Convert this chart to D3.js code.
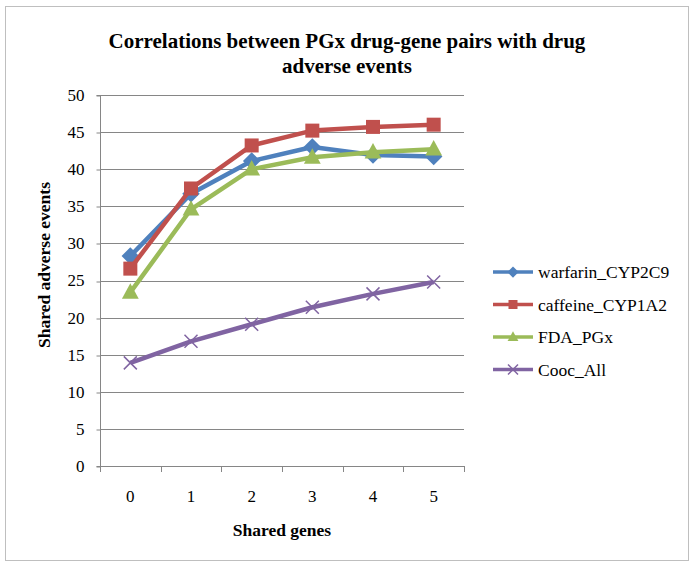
<!DOCTYPE html>
<html><head><meta charset="utf-8">
<script src="https://cdn.jsdelivr.net/npm/d3@7"></script>
<style>body{margin:0;background:#fff}svg{display:block}</style>
</head><body>
<svg id="c" width="695" height="569"></svg>
<script>
const categories = ["0","1","2","3","4","5"];
const warfarin = [28.3, 36.7, 41.1, 43.0, 41.9, 41.7];
const caffeine = [26.6, 37.4, 43.2, 45.2, 45.7, 46.0];
const fdaPGx   = [23.4, 34.6, 40.0, 41.6, 42.3, 42.7];
const coocAll  = [13.9, 16.8, 19.1, 21.4, 23.2, 24.8];
const yTicks = [0,5,10,15,20,25,30,35,40,45,50];
const seriesNames = ["warfarin_CYP2C9","caffeine_CYP1A2","FDA_PGx","Cooc_All"];

const series = [
  {name: seriesNames[0], values: warfarin, color: "#4F81BD", marker: "diamond"},
  {name: seriesNames[1], values: caffeine, color: "#C0504D", marker: "square"},
  {name: seriesNames[2], values: fdaPGx, color: "#9BBB59", marker: "triangle"},
  {name: seriesNames[3], values: coocAll, color: "#8064A2", marker: "x"}
];

const svg = d3.select("#c");
const font = "'Liberation Serif','Times New Roman',serif";
svg.append("rect").attr("x",5.5).attr("y",6.5).attr("width",683).attr("height",554)
  .attr("fill","#fff").attr("stroke","#bfbfbf").attr("stroke-width",1);

const L=100, R=464, T=95, B=466;
const x = d3.scaleBand().domain(categories).range([L,R]);
const y = d3.scaleLinear().domain([0,50]).range([B,T]);

// gridlines
svg.append("g").selectAll("line").data(yTicks.filter(d=>d>0)).join("line")
  .attr("x1",L).attr("x2",R).attr("y1",d=>Math.round(y(d))+0.5).attr("y2",d=>Math.round(y(d))+0.5)
  .attr("stroke","#868686").attr("stroke-width",1);

// y axis
const gy = svg.append("g").attr("transform",`translate(${L+0.5},0)`)
  .call(d3.axisLeft(y).tickValues(yTicks).tickSize(4).tickPadding(12));
gy.select(".domain").attr("stroke","#868686").attr("d",`M-4,${B+0.5}H0V${T+0.5}H-4`);
gy.selectAll(".tick line").attr("stroke","#868686").attr("transform",d=>`translate(0,${Math.round(y(d))+0.5-y(d)})`);
gy.selectAll(".tick text").attr("font-family",font).attr("font-size",17).attr("fill","#000");

// x axis
const gx = svg.append("g").attr("transform",`translate(0,${B+0.5})`)
  .call(d3.axisBottom(x).tickSize(0).tickPadding(23));
gx.select(".domain").attr("stroke","#868686").attr("d",`M${L},0H${R}`);
gx.selectAll(".tick text").attr("font-family",font).attr("font-size",17).attr("fill","#000");
const bounds = categories.map(c=>x(c)).concat([x(categories[categories.length-1])+x.bandwidth()]);
svg.append("g").selectAll("line").data(bounds).join("line")
  .attr("x1",d=>Math.round(d)+0.5).attr("x2",d=>Math.round(d)+0.5).attr("y1",B).attr("y2",B+6)
  .attr("stroke","#868686");

const cx = c => x(c)+x.bandwidth()/2;
const line = d3.line().x((d,i)=>cx(categories[i])).y(d=>y(d));

function drawMarker(g, type, color, px, py, s){
  if(type==="diamond"){
    g.append("path").attr("d",`M${px},${py-s*1.25}L${px+s*1.25},${py}L${px},${py+s*1.25}L${px-s*1.25},${py}Z`).attr("fill",color);
  } else if(type==="square"){
    g.append("rect").attr("x",px-s).attr("y",py-s).attr("width",2*s).attr("height",2*s).attr("fill",color);
  } else if(type==="triangle"){
    g.append("path").attr("d",`M${px},${py-s*1.3}L${px+s*1.2},${py+s*0.9}L${px-s*1.2},${py+s*0.9}Z`).attr("fill",color);
  } else {
    g.append("path").attr("d",`M${px-s},${py-s}L${px+s},${py+s}M${px-s},${py+s}L${px+s},${py-s}`).attr("stroke",color).attr("stroke-width",1.5).attr("fill","none");
  }
}

series.forEach(s=>{
  const g = svg.append("g");
  g.append("path").datum(s.values).attr("d",line).attr("fill","none")
    .attr("stroke",s.color).attr("stroke-width",4.5).attr("stroke-linejoin","round");
  s.values.forEach((v,i)=>drawMarker(g, s.marker, s.color, cx(categories[i]), y(v), s.marker==="x"?6.5:7));
});

// legend
const lg = svg.append("g");
series.forEach((s,i)=>{
  const ly = 272 + i*32.5;
  lg.append("line").attr("x1",493).attr("x2",533).attr("y1",ly).attr("y2",ly).attr("stroke",s.color).attr("stroke-width",3.5);
  drawMarker(lg, s.marker, s.color, 513, ly, s.marker==="x"?5:4.5);
  lg.append("text").attr("x",538).attr("y",ly+6).attr("font-family",font).attr("font-size",17.5).text(s.name);
});

// titles
const title = svg.append("text").attr("text-anchor","middle").attr("font-family",font)
  .attr("font-weight","bold").attr("font-size",21);
title.append("tspan").attr("x",347).attr("y",48).text("Correlations between PGx drug-gene pairs with drug");
title.append("tspan").attr("x",347).attr("y",73).text("adverse events");

svg.append("text").attr("x",(L+R)/2).attr("y",536).attr("text-anchor","middle")
  .attr("font-family",font).attr("font-weight","bold").attr("font-size",17.5).text("Shared genes");
svg.append("text").attr("transform",`translate(50,265) rotate(-90)`).attr("text-anchor","middle")
  .attr("font-family",font).attr("font-weight","bold").attr("font-size",17.5).text("Shared adverse events");
</script>
</body></html>
